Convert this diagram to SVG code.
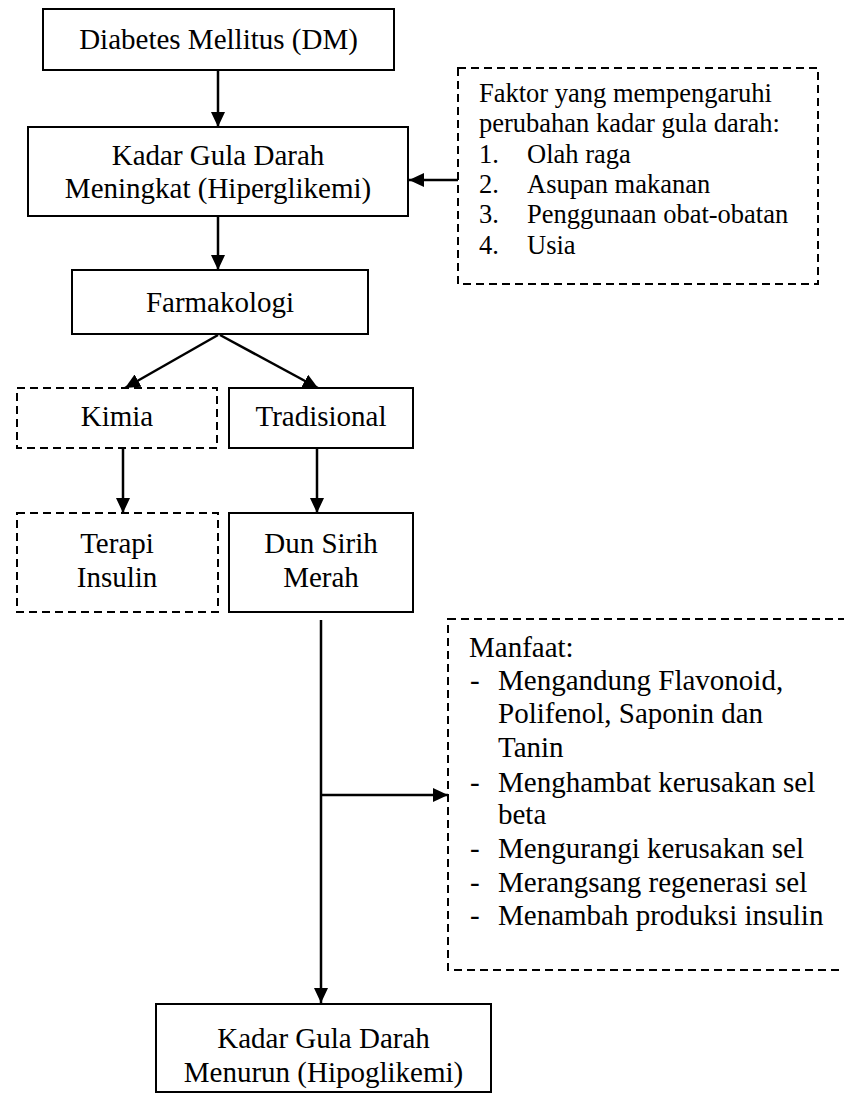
<svg xmlns="http://www.w3.org/2000/svg" width="844" height="1096" viewBox="0 0 844 1096">
<style>
.box{fill:#fff;stroke:#000;stroke-width:2}
.dash{fill:#fff;stroke:#000;stroke-width:2;stroke-dasharray:8 5}
.t{font-family:"Liberation Serif","Times New Roman",serif;font-size:29px;fill:#000}
.s{font-family:"Liberation Serif","Times New Roman",serif;font-size:26.5px;fill:#000}
.c{text-anchor:middle}
.ln{stroke:#000;stroke-width:2.5;fill:none}
</style>
<defs>
<marker id="ah" markerUnits="userSpaceOnUse" markerWidth="15" markerHeight="14" refX="15" refY="7" orient="auto">
<path d="M0,0 L15,7 L0,14 z" fill="#000"/>
</marker>
</defs>
<rect width="844" height="1096" fill="#fff"/>
<g id="connectors">
<line class="ln" x1="218" y1="70" x2="218" y2="127" marker-end="url(#ah)"/>
<line class="ln" x1="458" y1="180" x2="409" y2="180" marker-end="url(#ah)"/>
<line class="ln" x1="218" y1="216" x2="218" y2="270" marker-end="url(#ah)"/>
<line class="ln" x1="218" y1="335" x2="125" y2="388" marker-end="url(#ah)"/>
<line class="ln" x1="220" y1="335" x2="318" y2="388" marker-end="url(#ah)"/>
<line class="ln" x1="123" y1="448" x2="123" y2="513" marker-end="url(#ah)"/>
<line class="ln" x1="317" y1="448" x2="317" y2="513" marker-end="url(#ah)"/>
<line class="ln" x1="321" y1="620" x2="321" y2="1003" marker-end="url(#ah)"/>
<line class="ln" x1="321" y1="795" x2="448" y2="795" marker-end="url(#ah)"/>
</g>
<g id="n-dm">
<rect class="box" x="43" y="9" width="351" height="61"/>
<text class="t c" x="218.5" y="49">Diabetes Mellitus (DM)</text>
</g>
<g id="n-hiper">
<rect class="box" x="28" y="127" width="380" height="89"/>
<text class="t c" x="218" y="165">Kadar Gula Darah</text>
<text class="t c" x="218" y="198">Meningkat (Hiperglikemi)</text>
</g>
<g id="n-faktor">
<rect class="dash" x="458" y="68" width="360" height="216"/>
<text class="s" x="479" y="102">Faktor yang mempengaruhi</text>
<text class="s" x="479" y="132">perubahan kadar gula darah:</text>
<text class="s" x="479" y="163">1.</text><text class="s" x="527" y="163">Olah raga</text>
<text class="s" x="479" y="193">2.</text><text class="s" x="527" y="193">Asupan makanan</text>
<text class="s" x="479" y="223">3.</text><text class="s" x="527" y="223">Penggunaan obat-obatan</text>
<text class="s" x="479" y="254">4.</text><text class="s" x="527" y="254">Usia</text>
</g>
<g id="n-farmakologi">
<rect class="box" x="72" y="270" width="296" height="64"/>
<text class="t c" x="220" y="312">Farmakologi</text>
</g>
<g id="n-kimia">
<rect class="dash" x="17" y="388" width="200" height="60"/>
<text class="t c" x="117" y="426">Kimia</text>
</g>
<g id="n-tradisional">
<rect class="box" x="229" y="388" width="184" height="60"/>
<text class="t c" x="321" y="426">Tradisional</text>
</g>
<g id="n-terapi">
<rect class="dash" x="17" y="513" width="201" height="99"/>
<text class="t c" x="117" y="553">Terapi</text>
<text class="t c" x="117" y="587">Insulin</text>
</g>
<g id="n-sirih">
<rect class="box" x="229" y="513" width="184" height="99"/>
<text class="t c" x="321" y="553">Dun Sirih</text>
<text class="t c" x="321" y="587">Merah</text>
</g>
<g id="n-manfaat">
<rect class="dash" x="448" y="619" width="410" height="351"/>
<text class="t" x="469" y="657">Manfaat:</text>
<text class="t" x="470" y="690">-</text><text class="t" x="498" y="690">Mengandung Flavonoid,</text>
<text class="t" x="498" y="723">Polifenol, Saponin dan</text>
<text class="t" x="498" y="757">Tanin</text>
<text class="t" x="470" y="792">-</text><text class="t" x="498" y="792">Menghambat kerusakan sel</text>
<text class="t" x="498" y="824">beta</text>
<text class="t" x="470" y="858">-</text><text class="t" x="498" y="858">Mengurangi kerusakan sel</text>
<text class="t" x="470" y="892">-</text><text class="t" x="498" y="892">Merangsang regenerasi sel</text>
<text class="t" x="470" y="925">-</text><text class="t" x="498" y="925">Menambah produksi insulin</text>
</g>
<g id="n-hipo">
<rect class="box" x="156" y="1004" width="335" height="88"/>
<text class="t c" x="323.5" y="1048">Kadar Gula Darah</text>
<text class="t c" x="323.5" y="1082">Menurun (Hipoglikemi)</text>
</g>
</svg>
